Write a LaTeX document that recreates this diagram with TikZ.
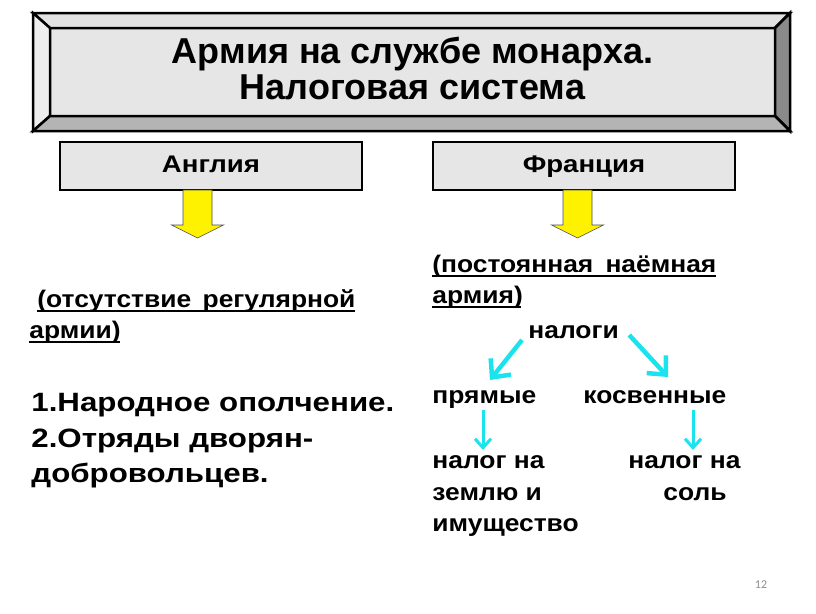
\documentclass[tikz,border=0pt]{standalone}
\usepackage{fontspec}
\setmainfont{Liberation Sans}
\setsansfont{Liberation Sans}
\newfontfamily\bodyfont[FakeStretch=1.1]{Liberation Sans}
\newfontfamily\boxfont[FakeStretch=1.15]{Liberation Sans}
\newfontfamily\listfont[FakeStretch=1.18]{Liberation Sans}
\newfontfamily\numfont{Carlito}
\usetikzlibrary{arrows.meta,calc}

\definecolor{face}{HTML}{E6E6E6}
\definecolor{bevtop}{HTML}{E2E2E2}
\definecolor{bevleft}{HTML}{EEEEEE}
\definecolor{bevmid}{HTML}{B4B4B4}
\definecolor{bevdark}{HTML}{8A8A8A}
\definecolor{arrcyan}{HTML}{1BE3EE}

% underlined text, spread to a given width
\newcommand{\undl}[2]{\setbox0\hbox{\makebox[#1][s]{#2}}\rlap{\rule[-4.9pt]{\wd0}{1.8pt}}\box0}

\begin{document}
\begin{tikzpicture}[
        x=1pt,y=-1pt,
        %Environment config
        font=\sffamily\bfseries,
        thick,
        %Environment styles
        TitleCfg/.style={
            draw, fill=face, line width=2.5pt, outer sep=0pt,
            minimum width=725pt, minimum height=88pt,
            inner sep=0pt, align=center,
            font=\sffamily\bfseries\fontsize{36}{36}\selectfont
        },
        BevelCfg/.style={draw, line width=2.5pt, line join=miter},
        BoxCfg/.style={
            draw, fill=face, line width=2.5pt, outer sep=0pt,
            minimum width=302pt, minimum height=48pt,
            text height=17pt, text depth=5pt,
            font=\boxfont\bfseries\fontsize{24}{28}\selectfont
        },
        TxtCfg/.style={
            anchor=base west, inner sep=0pt,
            font=\bodyfont\bfseries\fontsize{24}{28}\selectfont
        },
        ListCfg/.style={
            anchor=base west, inner sep=0pt,
            font=\listfont\bfseries\fontsize{26.5}{30}\selectfont
        },
        YArrow/.style={draw=black!70, line width=0.6pt, fill=yellow},
        CArrowD/.style={draw=arrcyan, line width=4.5pt,
            -{Straight Barb[length=14pt,width=26pt,line width=4.5pt]}},
        CArrowV/.style={draw=arrcyan, line width=3pt,
            -{Straight Barb[length=9pt,width=16pt,line width=3pt]}}
    ]
    \useasboundingbox (0,0) rectangle (816,613);

    %title with bevel frame
    \node[TitleCfg] (title) at (412.5,72) {Армия на службе монарха.\\Налоговая система\rule[-8pt]{0pt}{8pt}};
    \path
        ($(title.north west)+(-17,-15)$) coordinate (tnw)
        ($(title.north east)+(15,-15)$) coordinate (tne)
        ($(title.south west)+(-17,15)$) coordinate (tsw)
        ($(title.south east)+(15,15)$) coordinate (tse);
    \draw[BevelCfg, fill=bevtop] (tnw) -- (tne) -- (title.north east) -- (title.north west) -- cycle;
    \draw[BevelCfg, fill=bevleft] (tnw) -- (title.north west) -- (title.south west) -- (tsw) -- cycle;
    \draw[BevelCfg, fill=bevdark] (tne) -- (tse) -- (title.south east) -- (title.north east) -- cycle;
    \draw[BevelCfg, fill=bevmid] (tsw) -- (title.south west) -- (title.south east) -- (tse) -- cycle;

    %countries
    \node[BoxCfg] (anglia) at (211,166) {Англия};
    \node[BoxCfg] (francia) at (584,166) {Франция};

    \path[YArrow] ($(anglia.south)+(-13.5,0)$)
        ++(-14.5,0) -- ++(0,35) -- ++(-11.5,0) -- ++(26,13)
        -- ++(26,-13) -- ++(-11.5,0) -- ++(0,-35) -- cycle;
    \path[YArrow] ($(francia.south)+(-6.5,0)$)
        ++(-14.5,0) -- ++(0,35) -- ++(-11.5,0) -- ++(26,13)
        -- ++(26,-13) -- ++(-11.5,0) -- ++(0,-35) -- cycle;

    %England
    \path
        (37,307) node[TxtCfg](noarmy){\undl{318pt}{(отсутствие регулярной}}
        (29,338) node[TxtCfg](armii){\undl{91pt}{армии)}}
        (31,411) node[ListCfg](opolch){1.Народное ополчение.}
            ++(0,36.5) node[ListCfg](otrjady){2.Отряды дворян-}
            ++(0,34.5) node[ListCfg](dobro){добровольцев.};

    %France
    \path
        (432,272) node[TxtCfg](postoj){\undl{284pt}{(постоянная наёмная}}
            ++(0,31) node[TxtCfg](armija){\undl{89pt}{армия)}}
        (528,338) node[TxtCfg](nalogi){налоги}
        (432,403) node[TxtCfg](prjamye){прямые}
        (583,403) node[TxtCfg](kosv){косвенные}
        (432,468) node[TxtCfg](zem1){налог на}
            ++(0,32) node[TxtCfg](zem2){землю и}
            ++(0,31) node[TxtCfg](zem3){имущество}
        (628,468) node[TxtCfg](sol1){налог на}
        (663,500) node[TxtCfg](sol2){соль};

    \draw[CArrowD] ($(nalogi.base west)+(-6,2)$) -- ($(prjamye.base west)+(58,-23)$);
    \draw[CArrowD] ($(nalogi.base east)+(10,-3)$) -- ($(kosv.base west)+(85,-26)$);
    \draw[CArrowV] ($(prjamye.base west)+(51,7)$) -- ($(zem1.base west)+(51,-18)$);
    \draw[CArrowV] ($(kosv.base west)+(110,7)$) -- ($(sol1.base west)+(65,-18)$);

    \node[font=\numfont\fontsize{12}{14}\selectfont, text=black!45] (pagenum) at (761,585) {12};
\end{tikzpicture}
\end{document}
